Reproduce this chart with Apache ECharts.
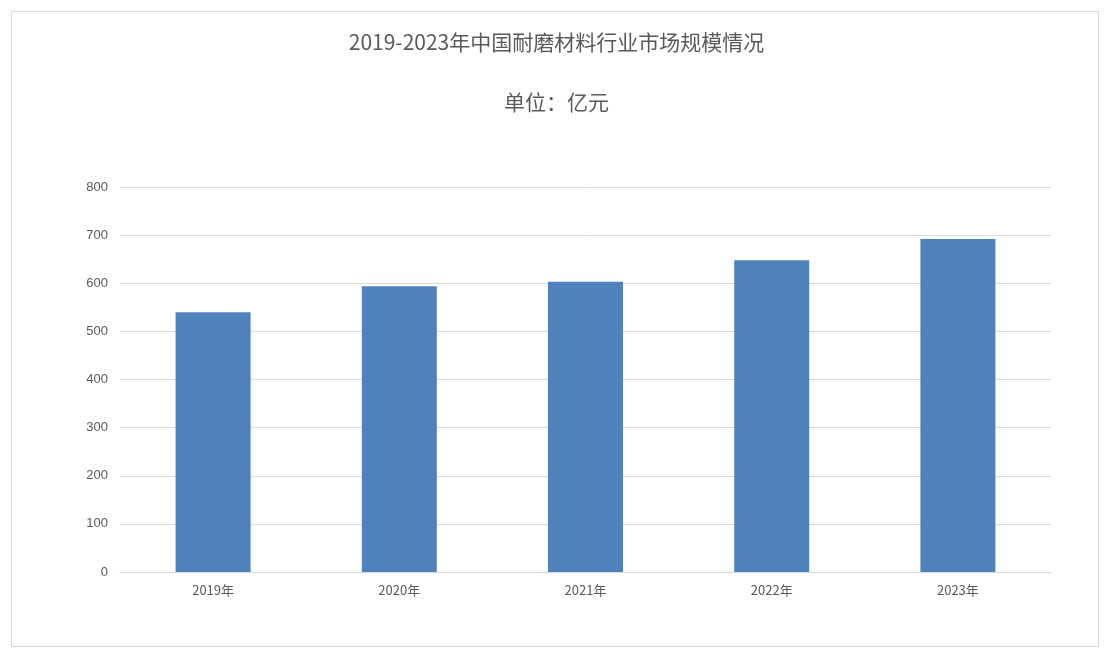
<!DOCTYPE html>
<html><head><meta charset="utf-8">
<script src="https://cdn.jsdelivr.net/npm/echarts@6/dist/echarts.min.js"></script>
<style>html,body{margin:0;padding:0;background:#fff}
#box{position:absolute;left:11px;top:11px;width:1088px;height:636px;border:1px solid #d9d9d9;box-sizing:border-box}
#c{position:absolute;left:0;top:0;width:1113px;height:655px}</style>
</head><body><div id="box"></div><div id="c"></div>
<script>
const categories = ['2019年','2020年','2021年','2022年','2023年'];
const values = [540, 594, 603, 648, 692];
const yTicks = [0,100,200,300,400,500,600,700,800];
const chart = echarts.init(document.getElementById('c'));
chart.setOption({
  animation:false,
  title:{text:'2019-2023年中国耐磨材料行业市场规模情况\n\n单位：亿元',left:'center',top:22,
    textStyle:{fontFamily:'Noto Sans CJK SC',fontSize:21,fontWeight:'normal',color:'#595959',lineHeight:30}},
  grid:{left:120,right:62,top:187,bottom:83},
  xAxis:{type:'category',data:categories,
    axisLine:{lineStyle:{color:'#d9d9d9'}},axisTick:{show:false},
    axisLabel:{color:'#595959',fontSize:13,fontFamily:'Noto Sans CJK SC',margin:12}},
  yAxis:{type:'value',min:yTicks[0],max:yTicks[yTicks.length-1],interval:100,
    axisLine:{show:false},axisTick:{show:false},
    splitLine:{lineStyle:{color:'#d9d9d9'}},
    axisLabel:{color:'#595959',fontSize:13,margin:12}},
  series:[{type:'bar',data:values,barWidth:75,itemStyle:{color:'#4f81bd'}}]
});
</script></body></html>
